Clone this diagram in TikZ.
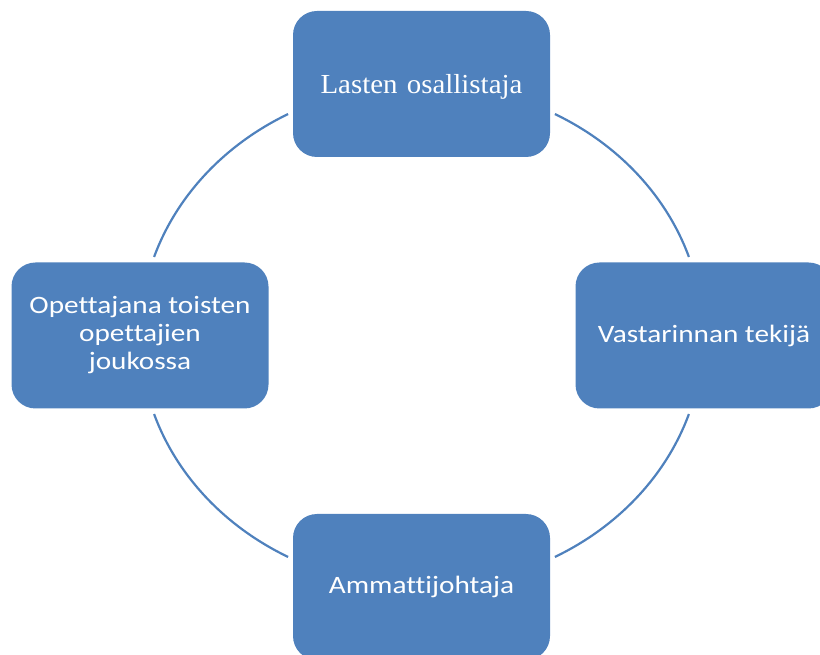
\documentclass[tikz,border=0pt]{standalone}
\usepackage{fontspec}
\setmainfont{Carlito}[FakeStretch=1.17, Ligatures={NoCommon}]
\newfontfamily\serifbox{Liberation Serif}[FakeStretch=1.05, WordSpace=1.3]
\definecolor{boxblue}{RGB}{79,129,189}
\begin{document}
\begin{tikzpicture}[x=1pt,y=1pt,
  cyclebox/.style={rectangle, rounded corners=24pt, fill=boxblue,
    minimum width=257pt, minimum height=146pt, text=white, align=center,
    font=\fontsize{25}{28}\selectfont, inner sep=0pt},
  cyclearc/.style={draw=boxblue, line width=2.2pt}]
\useasboundingbox (0,0) rectangle (820,654);
\clip (0,0) rectangle (820,654);
\coordinate (C) at (421.5,318.5);
\node[cyclebox, font=\serifbox\fontsize{27.5}{30}\selectfont] (top) at (421.5,570) {\raisebox{-3pt}[\height][\depth]{Lasten osallistaja}};
\node[cyclebox] (right) at (704,318.5) {Vastarinnan tekijä};
\node[cyclebox] (bottom) at (421.5,67) {Ammattijohtaja};
\node[cyclebox] (left) at (140,318.5) {Opettajana toisten\\opettajien\\joukossa};
\draw[cyclearc] ([shift={(118.3:281.5 and 251.5)}]C) arc[start angle=118.3, end angle=161.8, x radius=281.5, y radius=251.5];
\draw[cyclearc] ([shift={(18.2:281.5 and 251.5)}]C) arc[start angle=18.2, end angle=61.7, x radius=281.5, y radius=251.5];
\draw[cyclearc] ([shift={(198.2:281.5 and 251.5)}]C) arc[start angle=198.2, end angle=241.7, x radius=281.5, y radius=251.5];
\draw[cyclearc] ([shift={(298.3:281.5 and 251.5)}]C) arc[start angle=298.3, end angle=341.8, x radius=281.5, y radius=251.5];
\end{tikzpicture}
\end{document}
